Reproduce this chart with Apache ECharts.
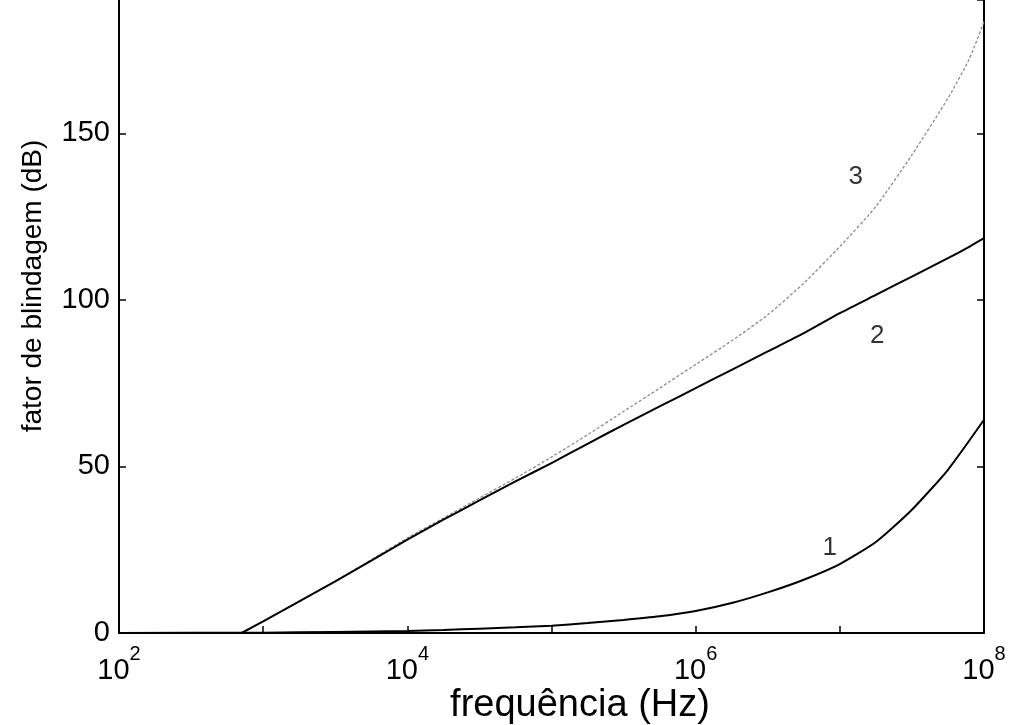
<!DOCTYPE html>
<html>
<head>
<meta charset="utf-8">
<script src="https://cdn.jsdelivr.net/npm/echarts@6/dist/echarts.min.js"></script>
<style>
html,body{margin:0;padding:0;background:#fff;}
#chart{width:1010px;height:725px;}
</style>
</head>
<body>
<div id="chart"></div>
<script>
// frequencies (Hz) and shielding factor (dB) for each curve
const freq1 = [1e2, 1e3, 3162, 1e4, 17783, 31623, 56234, 1e5, 177828, 316228, 562341, 1e6, 1.778e6, 3.162e6, 5.623e6, 1e7, 1.778e7, 3.162e7, 5.623e7, 1e8];
const shield1 = [0, 0.1, 0.3, 0.6, 0.9, 1.3, 1.7, 2.2, 3.0, 3.9, 5.0, 6.6, 9.0, 12.2, 16.0, 20.7, 27.3, 37, 49, 64];

const freq23 = [708, 1e3, 3162, 1e4, 17783, 31623, 56234, 1e5, 177828, 316228, 562341, 1e6, 1.778e6, 3.162e6, 5.623e6, 1e7, 1.778e7, 3.162e7, 5.623e7, 7.943e7, 1e8];
const shield2 = [0, 3.5, 15.5, 28, 34, 39.8, 45.5, 51, 56.8, 62.5, 68, 73.5, 79, 84.5, 90, 96, 101.5, 107, 112.5, 116, 118.5];
const shield3 = [0, 3.5, 15.5, 28.5, 34.5, 40.5, 46.5, 52.8, 59.5, 66.5, 73.5, 80.6, 87.7, 95.5, 105, 116, 128, 143.5, 160.5, 172.5, 183.5];

const curveLabels = ['1', '2', '3'];
const labelFreq = [8.5e6, 1.82e7, 1.29e7];
const labelDb = [25.7, 89.2, 137];

const yTicks = [0, 50, 100, 150];
const xTitle = 'frequência (Hz)';
const yTitle = 'fator de blindagem (dB)';

function pairs(xs, ys) { return xs.map((x, i) => [x, ys[i]]); }

const chart = echarts.init(document.getElementById('chart'), null, {renderer: 'canvas'});
const FONT = '"Liberation Sans", Arial, Helvetica, sans-serif';

const option = {
  backgroundColor: '#fff',
  animation: false,
  grid: {left: 119, right: 26, top: 0, bottom: 92, containLabel: false},
  xAxis: [{
    type: 'log', logBase: 10, min: 1e2, max: 1e8, splitNumber: 6,
    axisLine: {show: true, onZero: false, lineStyle: {color: '#000', width: 2}},
    axisTick: {show: true, inside: true, length: 7, lineStyle: {color: '#000', width: 1.5}},
    splitLine: {show: false},
    axisLabel: {
      margin: 11,
      formatter: function (v) {
        const e = Math.round(Math.log10(v));
        if (e % 2 !== 0) return '';
        return '{b|10}{s|' + e + '}';
      },
      rich: {
        b: {fontFamily: FONT, fontSize: 29, color: '#000', verticalAlign: 'bottom'},
        s: {fontFamily: FONT, fontSize: 20, color: '#000', verticalAlign: 'bottom', padding: [0, 0, 21, 0]}
      }
    }
  }],
  yAxis: [{
    type: 'value', min: 0, max: 190, interval: 50,
    axisLine: {show: true, onZero: false, lineStyle: {color: '#000', width: 2}},
    axisTick: {show: true, inside: true, length: 7, lineStyle: {color: '#000', width: 1.5}},
    splitLine: {show: false},
    axisLabel: {margin: 9, fontFamily: FONT, fontSize: 29, color: '#000', showMaxLabel: false,
      formatter: v => yTicks.indexOf(v) >= 0 ? String(v) : ''}
  }, {
    type: 'value', min: 0, max: 190, interval: 50, position: 'right',
    axisLine: {show: true, onZero: false, lineStyle: {color: '#000', width: 2}},
    axisTick: {show: true, inside: true, length: 7, lineStyle: {color: '#000', width: 1.5}},
    splitLine: {show: false},
    axisLabel: {show: false}
  }],
  graphic: [
    {type: 'text', x: 580, y: 706, style: {text: xTitle, font: '38px ' + FONT, fill: '#000', textAlign: 'center', textVerticalAlign: 'middle'}},
    {type: 'text', x: 33, y: 286, rotation: Math.PI / 2, style: {text: yTitle, font: '28px ' + FONT, fill: '#000', textAlign: 'center', textVerticalAlign: 'middle'}}
  ],
  series: [
    {type: 'line', data: pairs(freq1, shield1), showSymbol: false, smooth: 0.2, lineStyle: {color: '#000', width: 2}, z: 3},
    {type: 'line', data: pairs(freq23, shield2), showSymbol: false, smooth: 0.2, lineStyle: {color: '#000', width: 2}, z: 3},
    {type: 'line', data: pairs(freq23, shield3), showSymbol: false, smooth: 0.2, lineStyle: {color: '#8c8c8c', width: 1.3, type: [3, 2]}, z: 2},
    {type: 'scatter', symbolSize: 0, silent: true,
      data: labelFreq.map((f, i) => ({value: [f, labelDb[i]], name: curveLabels[i]})),
      label: {show: true, position: 'inside', formatter: p => p.name, fontFamily: FONT, fontSize: 26, color: '#000'}}
  ]
};
chart.setOption(option);
</script>
</body>
</html>
